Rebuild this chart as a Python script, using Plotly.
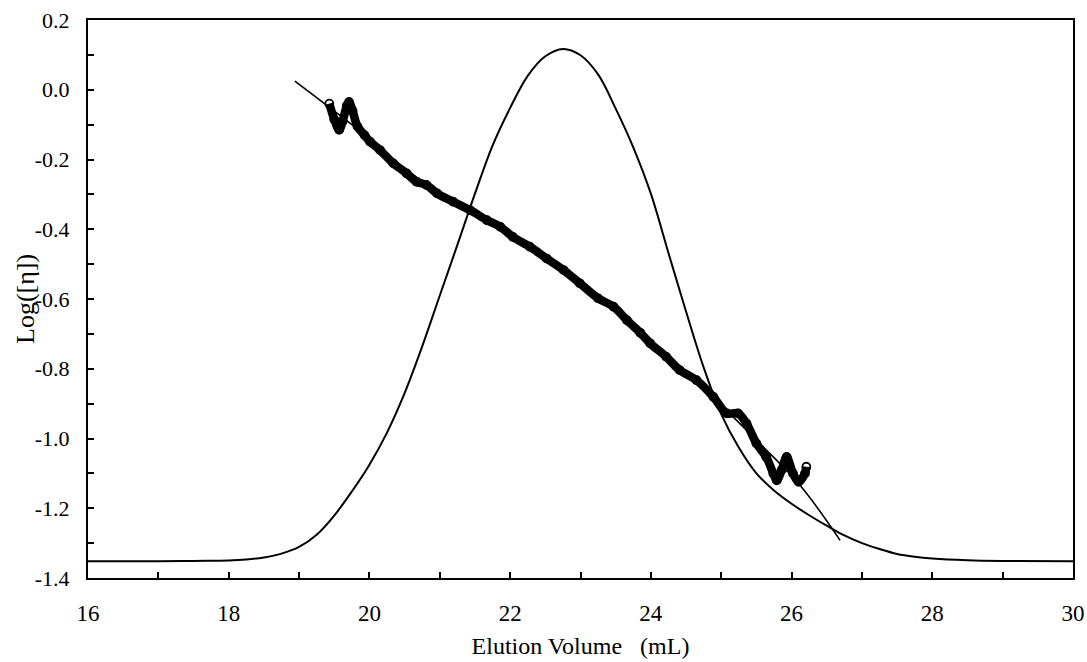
import plotly.graph_objects as go

# Refractive-index elution profile (arbitrary scale drawn on the Log[η] axis)
peak_x = [16.0, 17.0, 17.5, 18.0, 18.25, 18.5, 18.75, 19.0, 19.25, 19.5, 19.75,
          20.0, 20.25, 20.5, 20.75, 21.0, 21.25, 21.5, 21.75, 22.0, 22.25, 22.5,
          22.75, 23.0, 23.25, 23.5, 23.75, 24.0, 24.25, 24.5, 24.75, 25.0, 25.25,
          25.5, 25.75, 26.0, 26.25, 26.5, 26.75, 27.0, 27.25, 27.5, 27.75, 28.0,
          28.5, 29.0, 30.0]
peak_y = [-1.352, -1.352, -1.351, -1.350, -1.347, -1.341, -1.330, -1.311, -1.276,
          -1.221, -1.152, -1.075, -0.983, -0.870, -0.736, -0.590, -0.445, -0.298,
          -0.160, -0.052, 0.040, 0.096, 0.117, 0.099, 0.044, -0.054, -0.165,
          -0.298, -0.468, -0.636, -0.796, -0.930, -1.026, -1.100, -1.149, -1.187,
          -1.220, -1.250, -1.278, -1.300, -1.317, -1.331, -1.339, -1.344, -1.349,
          -1.351, -1.352]

# Measured intrinsic viscosity, Log([η]) per elution slice
visc_x = [19.43, 19.50, 19.57, 19.62, 19.68, 19.71, 19.76, 19.83, 19.93, 20.01,
          20.15, 20.34, 20.53, 20.67, 20.81, 20.96, 21.19, 21.43, 21.67, 21.86,
          22.04, 22.28, 22.52, 22.76, 22.99, 23.25, 23.47, 23.66, 23.85, 23.99,
          24.22, 24.41, 24.65, 24.89, 25.08, 25.24, 25.36, 25.50, 25.64, 25.74,
          25.79, 25.86, 25.93, 26.02, 26.10, 26.19, 26.21]
visc_y = [-0.040, -0.085, -0.115, -0.090, -0.045, -0.035, -0.060, -0.105, -0.130,
          -0.149, -0.173, -0.211, -0.240, -0.264, -0.273, -0.297, -0.321, -0.345,
          -0.374, -0.393, -0.422, -0.450, -0.484, -0.517, -0.555, -0.598, -0.622,
          -0.661, -0.697, -0.727, -0.766, -0.804, -0.833, -0.881, -0.928, -0.928,
          -0.957, -1.014, -1.053, -1.100, -1.120, -1.090, -1.053, -1.100, -1.124,
          -1.100, -1.081]

# Calibration fit through the viscosity data
fit_x = [18.94, 19.39, 20.0, 20.5, 21.0, 21.5, 22.0, 22.5, 23.0, 23.5, 24.0,
         24.5, 25.0, 25.5, 26.12, 26.69]
fit_y = [0.025, -0.044, -0.140, -0.225, -0.298, -0.355, -0.415, -0.480, -0.555,
         -0.628, -0.720, -0.815, -0.905, -1.005, -1.134, -1.292]

x_ticks = [16, 18, 20, 22, 24, 26, 28, 30]
x_tick_text = ["16", "18", "20", "22", "24", "26", "28", "30"]
y_ticks = [0.2, 0.0, -0.2, -0.4, -0.6, -0.8, -1.0, -1.2, -1.4]
y_tick_text = ["0.2", "0.0", "-0.2", "-0.4", "-0.6", "-0.8", "-1.0", "-1.2", "-1.4"]

FONT = "Liberation Serif"

fig = go.Figure()

fig.add_trace(go.Scatter(
    x=peak_x, y=peak_y, mode="lines",
    line=dict(color="black", width=2, shape="spline", smoothing=1.0),
    hoverinfo="skip", showlegend=False))

fig.add_trace(go.Scatter(
    x=fit_x, y=fit_y, mode="lines",
    line=dict(color="black", width=1.6, shape="spline", smoothing=1.0),
    hoverinfo="skip", showlegend=False))

fig.add_trace(go.Scatter(
    x=visc_x, y=visc_y, mode="lines+markers",
    line=dict(color="black", width=8.5, shape="spline", smoothing=0.9),
    marker=dict(symbol="circle-open", size=8, color="black", line=dict(width=1.8)),
    hoverinfo="skip", showlegend=False))

axis_common = dict(
    showline=True, linecolor="black", linewidth=2, mirror=True,
    ticks="inside", ticklen=6, tickwidth=1.5, tickcolor="black",
    showgrid=False, zeroline=False,
)

fig.update_xaxes(
    range=[16, 30], tickvals=x_ticks, ticktext=x_tick_text,
    minor=dict(ticks="inside", ticklen=6, tickwidth=1.5, tickcolor="black", dtick=1, showgrid=False),
    tickfont=dict(family=FONT, size=23, color="black"),
    ticklabelstandoff=13,
    title=dict(text="Elution Volume\u00a0\u00a0 (mL)", font=dict(family=FONT, size=24, color="black"),
               standoff=13),
    **axis_common)

fig.update_yaxes(
    range=[-1.4, 0.2], tickvals=y_ticks, ticktext=y_tick_text,
    minor=dict(ticks="inside", ticklen=6, tickwidth=1.5, tickcolor="black", dtick=0.1, showgrid=False),
    tickfont=dict(family=FONT, size=22, color="black"),
    ticklabelstandoff=12,
    **axis_common)

# y-axis title placed as a rotated annotation left of the tick labels
fig.add_annotation(
    text="Log([η])", textangle=-90, showarrow=False,
    xref="paper", yref="paper", x=-0.064, y=0.5, xanchor="center", yanchor="middle",
    font=dict(family=FONT, size=26, color="black"))

fig.update_layout(
    width=1087, height=662,
    margin=dict(l=88, r=14, t=20, b=84, autoexpand=False),
    paper_bgcolor="white", plot_bgcolor="white",
)

fig.write_html("out.html")
